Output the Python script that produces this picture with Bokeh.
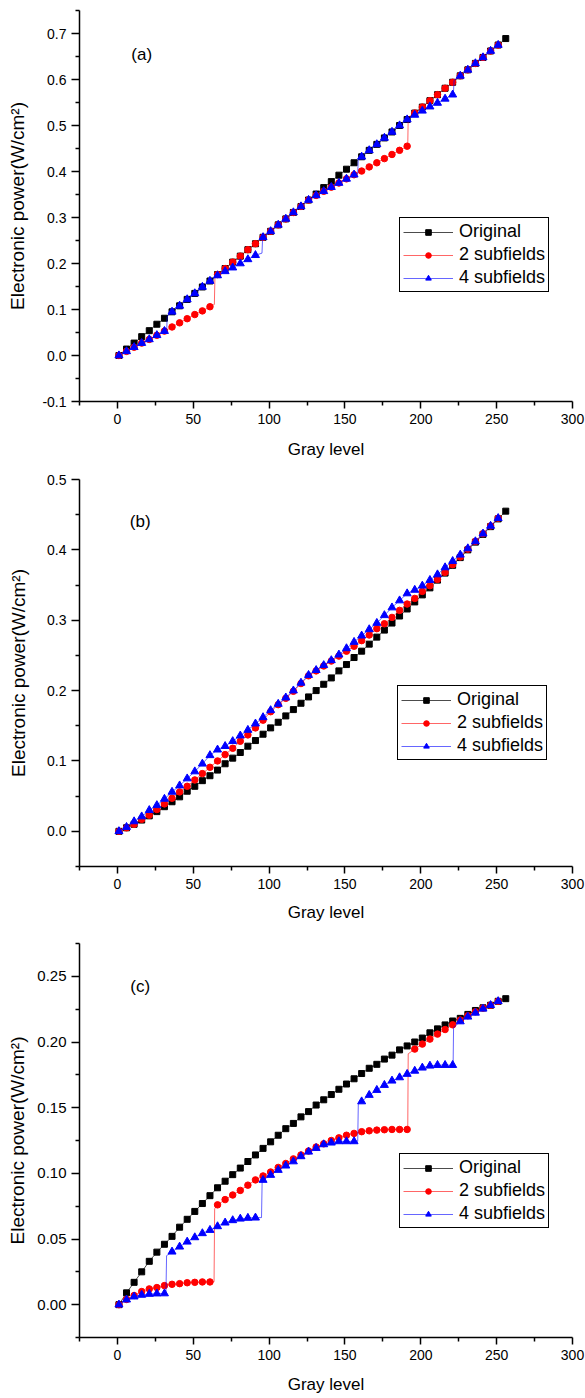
from bokeh.plotting import figure
from bokeh.models import FixedTicker, PrintfTickFormatter, Label, Legend, LegendItem, Range1d
from bokeh.layouts import column
from bokeh.embed import file_html
from bokeh.resources import INLINE

FONT = "Liberation Sans"

# ---------------- data ----------------
gray_levels = [1, 6, 11, 16, 21, 26, 31, 36, 41, 46, 51, 56, 61, 66, 71, 76, 81, 86, 91, 96,
               101, 106, 111, 116, 121, 126, 131, 136, 141, 146, 151, 156, 161, 166, 171, 176,
               181, 186, 191, 196, 201, 206, 211, 216, 221, 226, 231, 236, 241, 246, 251, 256]

series_names = ["Original", "2 subfields", "4 subfields"]

# panel (a)
a_original = [0.000, 0.014, 0.027, 0.041, 0.054, 0.068, 0.081, 0.095, 0.108, 0.122,
              0.135, 0.149, 0.162, 0.176, 0.189, 0.203, 0.216, 0.230, 0.243, 0.257,
              0.270, 0.284, 0.297, 0.311, 0.324, 0.338, 0.351, 0.365, 0.378, 0.392,
              0.405, 0.419, 0.432, 0.446, 0.459, 0.473, 0.486, 0.500, 0.513, 0.527,
              0.540, 0.554, 0.567, 0.581, 0.594, 0.608, 0.621, 0.635, 0.648, 0.662,
              0.675, 0.689]
a_2sub = [0.000, 0.009, 0.018, 0.027, 0.035, 0.044, 0.053, 0.062, 0.071, 0.080, 0.089, 0.097, 0.106,
          0.176, 0.189, 0.203, 0.216, 0.230, 0.243, 0.257, 0.270, 0.284, 0.297, 0.311, 0.324, 0.338,
          0.348, 0.357, 0.366, 0.375, 0.384, 0.393, 0.401, 0.410, 0.419, 0.428, 0.437, 0.446, 0.455,
          0.527, 0.540, 0.554, 0.567, 0.581, 0.594, 0.608, 0.621, 0.635, 0.648, 0.662, 0.675]
a_4sub = [0.000, 0.009, 0.018, 0.027, 0.035, 0.044, 0.053,
          0.095, 0.108, 0.122, 0.135, 0.149, 0.162,
          0.174, 0.183, 0.191, 0.200, 0.209, 0.218,
          0.257, 0.270, 0.284, 0.297, 0.311, 0.324, 0.338,
          0.348, 0.357, 0.366, 0.375, 0.384, 0.393,
          0.432, 0.446, 0.459, 0.473, 0.486, 0.500, 0.513,
          0.523, 0.532, 0.541, 0.549, 0.558, 0.567,
          0.608, 0.621, 0.635, 0.648, 0.662, 0.675]
# points where the lines step between subfield segments
a_2sub_step_x = [63.9, 64.3, 191.4, 191.7]
a_2sub_step_v = [0.111, 0.172, 0.457, 0.518]
a_4sub_step_x = [32.5, 32.8, 95.3, 95.7, 158.4, 158.8, 221.5, 221.9]
a_4sub_step_v = [0.056, 0.085, 0.2225, 0.254, 0.396, 0.428, 0.568, 0.598]

# panel (b)
b_original = [0.000, 0.005, 0.010, 0.016, 0.022, 0.028, 0.035, 0.042, 0.049, 0.057,
              0.064, 0.072, 0.079, 0.087, 0.096, 0.104, 0.112, 0.121, 0.129, 0.138,
              0.147, 0.155, 0.164, 0.173, 0.182, 0.191, 0.200, 0.209, 0.218, 0.228,
              0.237, 0.247, 0.256, 0.266, 0.276, 0.286, 0.296, 0.306, 0.316, 0.326,
              0.336, 0.346, 0.357, 0.367, 0.378, 0.389, 0.400, 0.411, 0.422, 0.433,
              0.444, 0.455]
b_2sub = [0.000, 0.005, 0.010, 0.017, 0.023, 0.031, 0.039, 0.047, 0.056, 0.064,
          0.073, 0.082, 0.091, 0.100, 0.109, 0.118, 0.128, 0.137, 0.147, 0.158,
          0.170, 0.180, 0.189, 0.199, 0.210, 0.221, 0.228, 0.235, 0.242, 0.249,
          0.256, 0.263, 0.271, 0.279, 0.288, 0.295, 0.304, 0.314, 0.323, 0.331,
          0.341, 0.349, 0.358, 0.368, 0.379, 0.390, 0.401, 0.412, 0.423, 0.434,
          0.445]
b_4sub = [0.000, 0.006, 0.014, 0.021, 0.030, 0.037, 0.046, 0.056, 0.065, 0.075,
          0.085, 0.096, 0.108, 0.116, 0.121, 0.128, 0.136, 0.144, 0.153, 0.162,
          0.172, 0.181, 0.190, 0.200, 0.211, 0.222, 0.229, 0.236, 0.243, 0.251,
          0.260, 0.269, 0.278, 0.287, 0.296, 0.307, 0.318, 0.328, 0.338, 0.343,
          0.349, 0.357, 0.365, 0.375, 0.384, 0.393, 0.402, 0.412, 0.423, 0.434,
          0.445]
b_2sub_step_x = []
b_2sub_step_v = []
b_4sub_step_x = []
b_4sub_step_v = []

# panel (c)
c_original = [0.000, 0.009, 0.017, 0.025, 0.033, 0.040, 0.046, 0.052, 0.059, 0.065,
              0.071, 0.077, 0.083, 0.089, 0.094, 0.099, 0.104, 0.109, 0.114, 0.119,
              0.124, 0.129, 0.134, 0.138, 0.143, 0.147, 0.152, 0.156, 0.160, 0.164,
              0.168, 0.172, 0.176, 0.180, 0.183, 0.187, 0.190, 0.194, 0.197, 0.200,
              0.203, 0.207, 0.210, 0.213, 0.216, 0.218, 0.221, 0.224, 0.226, 0.228,
              0.231, 0.233]
c_2sub = [0.000, 0.004, 0.007, 0.010, 0.012, 0.013, 0.0145, 0.0155, 0.016, 0.0167,
          0.017, 0.0173, 0.0173, 0.076, 0.080, 0.0835, 0.087, 0.091, 0.095, 0.098,
          0.101, 0.1045, 0.1075, 0.111, 0.114, 0.117, 0.120, 0.1225, 0.125, 0.127,
          0.129, 0.1304, 0.1317, 0.1324, 0.1329, 0.1332, 0.1334, 0.1334, 0.1334, 0.1946,
          0.1984, 0.2022, 0.206, 0.2095, 0.2131, 0.2167, 0.220, 0.223, 0.2258, 0.228,
          0.231]
c_4sub = [0.000, 0.0038, 0.0061, 0.0074, 0.0081, 0.0084, 0.0085, 0.0403, 0.0441, 0.0479,
          0.0512, 0.0543, 0.0568, 0.0596, 0.0624, 0.0642, 0.0654, 0.066, 0.0662, 0.0949,
          0.0987, 0.1025, 0.1058, 0.109, 0.1129, 0.1164, 0.1192, 0.122, 0.1233, 0.1243,
          0.1243, 0.1243, 0.1547, 0.1596, 0.1634, 0.1672, 0.1705, 0.173, 0.1756, 0.178,
          0.1804, 0.1819, 0.1824, 0.1824, 0.1824, 0.2156, 0.2192, 0.2222, 0.2253, 0.228,
          0.231]
c_2sub_step_x = [63.7, 64.1, 191.4, 191.7]
c_2sub_step_v = [0.0174, 0.073, 0.1335, 0.191]
c_4sub_step_x = [32.0, 32.4, 95.0, 95.4, 158.4, 158.8, 221.3, 221.6]
c_4sub_step_v = [0.0086, 0.0373, 0.0663, 0.094, 0.1244, 0.1527, 0.1825, 0.211]

# ticks
x_major = [0, 50, 100, 150, 200, 250, 300]
x_minor = [-25, 25, 75, 125, 175, 225, 275]
a_y_major = [-0.1, 0.0, 0.1, 0.2, 0.3, 0.4, 0.5, 0.6, 0.7]
a_y_minor = [-0.05, 0.05, 0.15, 0.25, 0.35, 0.45, 0.55, 0.65, 0.75]
b_y_major = [0.0, 0.1, 0.2, 0.3, 0.4, 0.5]
b_y_minor = [-0.05, 0.05, 0.15, 0.25, 0.35, 0.45]
c_y_major = [0.0, 0.05, 0.10, 0.15, 0.20, 0.25]
c_y_minor = [-0.025, 0.025, 0.075, 0.125, 0.175, 0.225, 0.275]

Y_TITLE = "Electronic power(W/cm\u00b2)"


def merged(xs, vs, sx, sv):
    pts = sorted(zip(list(xs) + list(sx), list(vs) + list(sv)))
    return [q[0] for q in pts], [q[1] for q in pts]


def panel(tag, orig, two, four, two_sx, two_sv, four_sx, four_sv,
          y_range, y_major, y_minor, y_fmt, y_lab_size, cfg):
    p = figure(width=585, height=cfg["h"], x_range=Range1d(-25, 300), y_range=Range1d(*y_range),
               output_backend="svg", toolbar_location=None,
               min_border_left=cfg["l"], min_border_right=13,
               min_border_top=cfg["t"], min_border_bottom=cfg["b"])
    p.outline_line_color = None
    p.grid.visible = False

    xa = p.xaxis[0]
    ya = p.yaxis[0]
    for ax in (xa, ya):
        ax.axis_line_width = 1.5
        ax.axis_line_color = "black"
        ax.major_tick_line_width = 1.5
        ax.minor_tick_line_width = 1.5
        ax.major_tick_line_color = "black"
        ax.minor_tick_line_color = "black"
        ax.major_tick_in = 0
        ax.minor_tick_in = 0
        ax.major_label_text_font = FONT
        ax.major_label_text_color = "black"
        ax.axis_label_text_font = FONT
        ax.axis_label_text_font_style = "normal"
        ax.axis_label_text_color = "black"
    xa.major_tick_out = 7
    xa.minor_tick_out = 4
    ya.major_tick_out = 8
    ya.minor_tick_out = 4
    xa.ticker = FixedTicker(ticks=x_major, minor_ticks=x_minor)
    xa.formatter = PrintfTickFormatter(format="%d")
    xa.major_label_text_font_size = "14px"
    xa.major_label_standoff = 5
    xa.axis_label = "Gray level"
    xa.axis_label_text_font_size = "17px"
    xa.axis_label_standoff = cfg["xs"]

    ya.ticker = FixedTicker(ticks=y_major, minor_ticks=y_minor)
    ya.formatter = PrintfTickFormatter(format=y_fmt)
    ya.major_label_text_font_size = y_lab_size
    ya.major_label_standoff = 5
    ya.axis_label = Y_TITLE
    ya.axis_label_text_font_size = "19px"
    ya.axis_label_standoff = cfg["ys"]

    # series
    n2 = len(two)
    n4 = len(four)
    l0 = p.line(gray_levels, orig, line_color="black", line_width=1, line_alpha=0.7)
    s0 = p.scatter(gray_levels, orig, marker="square", size=6, fill_color="black", line_color="black")
    rx, rv = merged(gray_levels[:n2], two, two_sx, two_sv)
    l1 = p.line(rx, rv, line_color="red", line_width=1, line_alpha=0.6)
    s1 = p.scatter(gray_levels[:n2], two, marker="circle", size=6.5, fill_color="red", line_color="red")
    bx, bv = merged(gray_levels[:n4], four, four_sx, four_sv)
    l2 = p.line(bx, bv, line_color="blue", line_width=1, line_alpha=0.6)
    s2 = p.scatter(gray_levels[:n4], four, marker="triangle", size=8, fill_color="blue", line_color="blue")

    legend = Legend(items=[LegendItem(label=series_names[0], renderers=[l0, s0]),
                           LegendItem(label=series_names[1], renderers=[l1, s1]),
                           LegendItem(label=series_names[2], renderers=[l2, s2])],
                    location=cfg["leg"], orientation="vertical",
                    border_line_color="black", border_line_width=1, border_line_alpha=1,
                    background_fill_color="white", background_fill_alpha=1,
                    label_text_font=FONT, label_text_font_size="18px", label_text_color="black",
                    glyph_width=50, glyph_height=14, label_height=20, spacing=2,
                    padding=3, label_standoff=6, margin=0)
    p.add_layout(legend)

    p.add_layout(Label(x=cfg["tag"][0], y=cfg["tag"][1], text=tag, text_align="center",
                       text_baseline="middle", text_font=FONT, text_font_size="17px",
                       text_color="black"))
    return p


pa = panel("(a)", a_original, a_2sub, a_4sub, a_2sub_step_x, a_2sub_step_v, a_4sub_step_x, a_4sub_step_v,
           (-0.1, 0.75), a_y_major, a_y_minor, "%.1f", "14px",
           dict(h=470, l=77, t=10, b=69, xs=13, ys=11, leg=(320, 109), tag=(16, 0.655)))
pb = panel("(b)", b_original, b_2sub, b_4sub, b_2sub_step_x, b_2sub_step_v, b_4sub_step_x, b_4sub_step_v,
           (-0.05, 0.5), b_y_major, b_y_minor, "%.1f", "14px",
           dict(h=462, l=79, t=9, b=66, xs=11, ys=15, leg=(318, 106), tag=(15, 0.44)))
pc = panel("(c)", c_original, c_2sub, c_4sub, c_2sub_step_x, c_2sub_step_v, c_4sub_step_x, c_4sub_step_v,
           (-0.025, 0.275), c_y_major, c_y_minor, "%.2f", "15px",
           dict(h=466, l=78, t=11, b=61, xs=12, ys=6, leg=(320, 109), tag=(15, 0.242)))

layout = column(pa, pb, pc, spacing=0)
open("out.html", "w").write(file_html(layout, INLINE))
